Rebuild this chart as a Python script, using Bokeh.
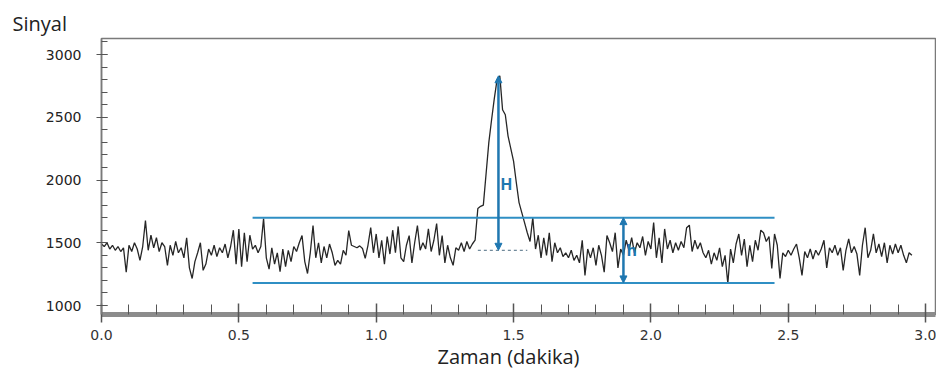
import numpy as np
from bokeh.plotting import figure
from bokeh.models import (Range1d, SingleIntervalTicker, PrintfTickFormatter,
                          Arrow, NormalHead, Title)
from bokeh.core.properties import value
from bokeh.embed import file_html
from bokeh.resources import INLINE

# ---- data ----
time_step = 0.01  # minutes between samples, starting at 0.0
signal = [
    1490, 1470, 1500, 1450, 1480, 1440, 1470, 1430, 1460, 1265,
    1480, 1430, 1500, 1450, 1360, 1470, 1677, 1440, 1560, 1460,
    1540, 1430, 1500, 1470, 1320, 1480, 1400, 1510, 1420, 1460,
    1380, 1540, 1300, 1215, 1350, 1420, 1500, 1280, 1330, 1450,
    1400, 1480, 1390, 1460, 1420, 1490, 1380, 1470, 1600, 1330,
    1610, 1310, 1580, 1350, 1560, 1450, 1480, 1420, 1470, 1693,
    1380, 1290, 1460, 1330, 1420, 1270, 1450, 1310, 1440, 1350,
    1470, 1430, 1500, 1557, 1350, 1255, 1420, 1637, 1380, 1500,
    1340, 1470, 1380, 1490, 1420, 1320, 1360, 1330, 1440, 1400,
    1597, 1480, 1470, 1460, 1475, 1455, 1375, 1480, 1620, 1420,
    1570, 1380, 1520, 1330, 1550, 1410, 1600, 1420, 1630, 1380,
    1350, 1480, 1557, 1340, 1500, 1637, 1440, 1500, 1450, 1610,
    1430, 1520, 1653, 1400, 1557, 1340, 1480, 1380, 1320, 1460,
    1440, 1500, 1430, 1510, 1450, 1490, 1520, 1773, 1790, 1800,
    2050, 2300, 2480, 2650, 2800, 2830, 2560, 2520, 2350, 2250,
    2150, 1980, 1820, 1740, 1660, 1580, 1510, 1700, 1450, 1560,
    1380, 1540, 1400, 1580, 1350, 1500, 1420, 1460, 1390, 1420,
    1380, 1440, 1360, 1400, 1340, 1520, 1240, 1450, 1380, 1460,
    1320, 1480, 1400, 1265, 1557, 1500, 1430, 1580, 1300, 1450,
    1400, 1520, 1440, 1540, 1420, 1500, 1460, 1550, 1400, 1510,
    1450, 1660, 1380, 1540, 1340, 1610, 1450, 1520, 1420, 1500,
    1440, 1510, 1460, 1620, 1640, 1430, 1520, 1450, 1500, 1420,
    1380, 1440, 1330, 1420, 1360, 1460, 1310, 1400, 1175, 1450,
    1340, 1490, 1570, 1400, 1530, 1310, 1480, 1350, 1520, 1440,
    1600, 1580, 1510, 1550, 1295, 1570, 1480, 1215, 1420, 1390,
    1440, 1400, 1450, 1490, 1380, 1240, 1430, 1380, 1450, 1370,
    1440, 1400, 1450, 1520, 1300, 1460, 1420, 1480, 1400, 1460,
    1280, 1440, 1530, 1420, 1470, 1410, 1240, 1480, 1620, 1380,
    1440, 1570, 1420, 1490, 1390, 1500, 1340, 1480, 1410, 1490,
    1420, 1480, 1400, 1340, 1420, 1400,
]
time = [round(i * time_step, 2) for i in range(len(signal))]

noise_x = [0.55, 2.45]          # extent of the noise band lines
noise_upper = 1700
noise_lower = 1180
peak_time = 1.445
peak_top = 2830
peak_base = 1440
base_dash_x = [1.37, 1.55]
h_time = 1.9
H_label_pos = (1.474, 1970)
h_label_pos = (1.93, 1440)

x_ticks_interval = 0.5
y_ticks_interval = 500

y_title = "Sinyal"
x_title = "Zaman (dakika)"

# ---- styles ----
BLUE = "#2f8fc4"
DARKBLUE = "#1f77b0"
AXIS_GRAY = "#7a7a7a"
FONT = "Open Sans"
TICK_FONT = "DejaVu Sans"

p = figure(width=936, height=374, output_backend="svg", toolbar_location=None,
           x_range=Range1d(0, 3.036), y_range=Range1d(928.3, 3127.5),
           min_border_left=101, min_border_right=1, min_border_top=38,
           min_border_bottom=60)

p.grid.visible = False
p.outline_line_color = AXIS_GRAY
p.outline_line_width = 1.5
p.background_fill_color = "white"
p.border_fill_color = "white"

# x axis
xa = p.xaxis[0]
xa.ticker = SingleIntervalTicker(interval=x_ticks_interval, num_minor_ticks=5)
xa.formatter = PrintfTickFormatter(format="%.1f")
xa.axis_line_color = "#8c8c8c"
xa.axis_line_width = 5
xa.major_tick_in = 11
xa.major_tick_out = 8
xa.minor_tick_in = 10
xa.minor_tick_out = 0
xa.major_tick_line_color = "#555555"
xa.minor_tick_line_color = "#555555"
xa.major_tick_line_width = 1.5
xa.major_label_text_font = TICK_FONT
xa.major_label_text_font_size = "14px"
xa.major_label_text_color = "#333333"
xa.major_label_standoff = 7

# y axis
ya = p.yaxis[0]
ya.ticker = SingleIntervalTicker(interval=y_ticks_interval, num_minor_ticks=5)
ya.axis_line_color = AXIS_GRAY
ya.axis_line_width = 1.5
ya.major_tick_in = 6
ya.major_tick_out = 5
ya.minor_tick_in = 6
ya.minor_tick_out = 0
ya.major_tick_line_color = "#555555"
ya.minor_tick_line_color = "#555555"
ya.major_label_text_font = TICK_FONT
ya.major_label_text_font_size = "14px"
ya.major_label_text_color = "#222222"
ya.major_label_standoff = 15

# axis titles as side-panel titles
p.title = Title(text=y_title, align="left", offset=-89, standoff=0,
                vertical_align="top",
                text_font=FONT, text_font_size="20px",
                text_font_style="normal", text_color="#222222")
p.add_layout(Title(text=x_title, align="left", offset=336, standoff=0,
                   vertical_align="top",
                   text_font=FONT, text_font_size="20px",
                   text_font_style="normal", text_color="#222222"), "below")

# signal trace
p.line(time, signal, line_color="#262626", line_width=1.3)

# noise band lines
p.segment(x0=[noise_x[0], noise_x[0]], y0=[noise_upper, noise_lower],
          x1=[noise_x[1], noise_x[1]], y1=[noise_upper, noise_lower],
          line_color=BLUE, line_width=2)

# dashed baseline under the peak
p.line(base_dash_x, [peak_base, peak_base], line_color="#4a6a80",
       line_width=1, line_dash="3 3")

# H and h arrows
for (xs, y0, y1) in [(peak_time, peak_base, peak_top), (h_time, noise_lower, noise_upper)]:
    p.add_layout(Arrow(
        x_start=xs, y_start=y0, x_end=xs, y_end=y1,
        line_color=DARKBLUE, line_width=2.5,
        start=NormalHead(size=7, fill_color=DARKBLUE, line_color=DARKBLUE),
        end=NormalHead(size=7, fill_color=DARKBLUE, line_color=DARKBLUE)))

p.text(x=[H_label_pos[0]], y=[H_label_pos[1]], text=["H"],
       text_font=value(FONT), text_font_size="16px", text_font_style="bold",
       text_color=DARKBLUE, text_align="center", text_baseline="middle")
p.text(x=[h_label_pos[0]], y=[h_label_pos[1]], text=["h"],
       text_font=value(FONT), text_font_size="16px", text_font_style="bold",
       text_color=DARKBLUE, text_align="center", text_baseline="middle")

open("out.html", "w").write(file_html(p, INLINE))
